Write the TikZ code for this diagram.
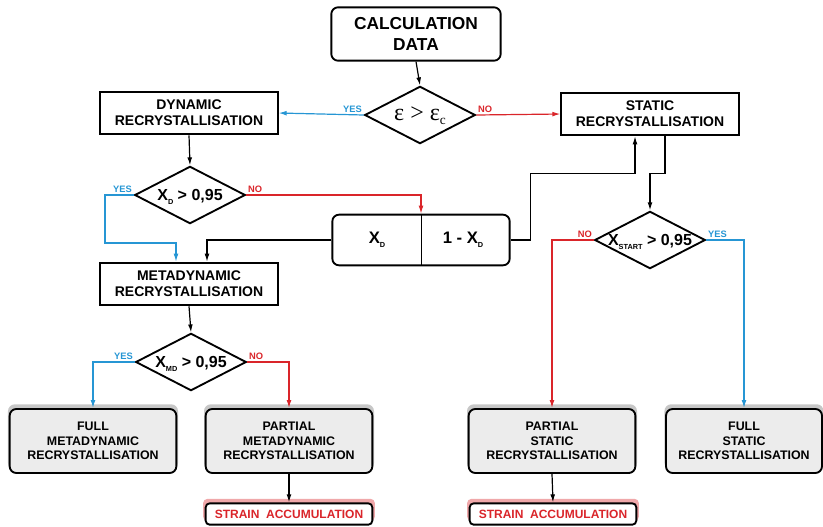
\documentclass[tikz,border=0pt]{standalone}
\usepackage{fontspec}
\setmainfont{Liberation Sans}
\newfontfamily\epsfont{Liberation Serif}
\usetikzlibrary{shapes.geometric,arrows.meta,calc,shadows}
\definecolor{yesblue}{RGB}{38,150,212}
\definecolor{nored}{RGB}{218,37,42}
\definecolor{boxgray}{RGB}{236,236,236}
\newcommand{\idx}[1]{\raisebox{-0.5ex}{\fontsize{5.5}{5.5}\selectfont #1}}
\newcommand{\dtext}[1]{\makebox[0pt]{#1}}
\tikzset{
    procbox/.style={draw,line width=1.4pt,fill=white,align=center,
        minimum width=133pt,minimum height=32pt,inner sep=1pt,
        font=\fontsize{10.5}{12}\selectfont\bfseries},
    startbox/.style={procbox,rounded corners=5pt,minimum width=127pt,
        minimum height=40pt,font=\fontsize{13}{15.5}\selectfont\bfseries},
    decision/.style={diamond,draw,line width=1.4pt,fill=white,inner sep=0pt,
        minimum width=83pt,minimum height=43pt,text height=8.6pt,text depth=0pt,
        font=\fontsize{12}{14}\selectfont\bfseries},
    endbox/.style={procbox,rounded corners=5pt,fill=boxgray,
        minimum width=125pt,minimum height=48pt,
        font=\fontsize{9.3}{10.7}\selectfont\bfseries,
        general shadow={fill=black!22,shadow yshift=3pt,shadow scale=1.02}},
    strainbox/.style={procbox,rounded corners=3pt,minimum width=125pt,
        minimum height=16pt,text=nored,
        font=\fontsize{9}{10}\selectfont\bfseries,
        general shadow={fill=nored!40,shadow yshift=3pt,shadow scale=1.03}},
    link/.style={line width=0.9pt,->},
    yesline/.style={link,yesblue},
    noline/.style={link,nored},
    yeslbl/.style={font=\fontsize{7}{8}\selectfont\bfseries,text=yesblue,inner sep=1pt},
    nolbl/.style={font=\fontsize{7}{8}\selectfont\bfseries,text=nored,inner sep=1pt},
}
\begin{document}
\begin{tikzpicture}[x=0.75pt,y=-0.75pt,>={Latex[length=6pt,width=3.6pt]}]
    \useasboundingbox (0,0) rectangle (823,526);
    %% top
    \node[startbox] (calc) at (416,34) {CALCULATION\\DATA};
    \node[decision,text height=8pt] (eps) at (420,115) {\dtext{\epsfont\fontsize{18}{20}\selectfont\mdseries ε > ε\raisebox{-0.4ex}{\fontsize{10}{10}\selectfont c}}};
    \node[procbox] (dyn) at (189,113) {DYNAMIC\\RECRYSTALLISATION};
    \node[procbox] (stat) at (650,114) {STATIC\\RECRYSTALLISATION};
    \draw[link] (calc.south) -- (eps.north);
    \draw[yesline] (eps.west) -- node[yeslbl,pos=0,anchor=south east] (yes1) {YES} (dyn.east);
    \draw[noline] (eps.east) -- node[nolbl,pos=0,anchor=south west] (no1) {NO} (stat.west);
    %% dynamic branch
    \node[decision] (xd) at (190,195) {\dtext{X\idx{D} > 0,95}};
    \node[draw,line width=1.4pt,rounded corners=5pt,minimum width=133pt,minimum height=38pt] (frac) at (421,240) {};
    \node[font=\fontsize{12.5}{14}\selectfont\bfseries] (fracl) at (377,240) {X\idx{D}};
    \node[font=\fontsize{12.5}{14}\selectfont\bfseries] (fracr) at (463,240) {1 - X\idx{D}};
    \draw[line width=0.6pt] (frac.north) -- (frac.south);
    \node[procbox] (meta) at (189,284) {METADYNAMIC\\RECRYSTALLISATION};
    \draw[link] (dyn.south) -- (xd.north);
    \draw[yesline] (xd.west) -- node[yeslbl,pos=0,anchor=south east] (yes2) {YES} (105,195)
        -- (105,243) -| ($(meta.north)+(-13,0)$);
    \draw[noline] (xd.east) -- node[nolbl,pos=0,anchor=south west] (no2) {NO} (xd.east -| frac.north)
        -- (frac.north);
    \draw[link] (frac.west) -| ($(meta.north)+(18,0)$);
    %% static branch
    \node[decision] (xstart) at (650,240) {\dtext{X\idx{START} > 0,95}};
    \draw[link] (frac.east) -- ++(20,0) |- ($(stat.south)+(-15,37)$) -- ($(stat.south)+(-15,0)$);
    \draw[link] ($(stat.south)+(15,0)$) -- ++(0,37) -| (xstart.north);
    %% metadynamic branch
    \node[decision] (xmd) at (191,362) {\dtext{X\idx{MD} > 0,95}};
    \draw[link] (meta.south) -- (xmd.north);
    %% final states
    \node[endbox] (fullmd) at (93,441) {FULL\\METADYNAMIC\\RECRYSTALLISATION};
    \node[endbox] (partmd) at (289,441) {PARTIAL\\METADYNAMIC\\RECRYSTALLISATION};
    \node[endbox] (partst) at (552,441) {PARTIAL\\STATIC\\RECRYSTALLISATION};
    \node[endbox,minimum width=117pt] (fullst) at (744,441) {FULL\\STATIC\\RECRYSTALLISATION};
    \draw[yesline] (xmd.west) -| node[yeslbl,pos=0,anchor=south east] (yes3) {YES} (fullmd.north);
    \draw[noline] (xmd.east) -| node[nolbl,pos=0,anchor=south west] (no3) {NO} (partmd.north);
    \draw[noline] (xstart.west) -| node[nolbl,pos=0,anchor=south east] (no4) {NO} (partst.north);
    \draw[yesline] (xstart.east) -| node[yeslbl,pos=0,anchor=south west] (yes4) {YES} (fullst.north);
    %% strain accumulation
    \node[strainbox] (strainmd) at (289,514) {STRAIN\ \ ACCUMULATION};
    \node[strainbox] (strainst) at (553,514) {STRAIN\ \ ACCUMULATION};
    \draw[link] (partmd.south) -- (strainmd.north);
    \draw[link] (partst.south) -- (strainst.north);
\end{tikzpicture}
\end{document}
